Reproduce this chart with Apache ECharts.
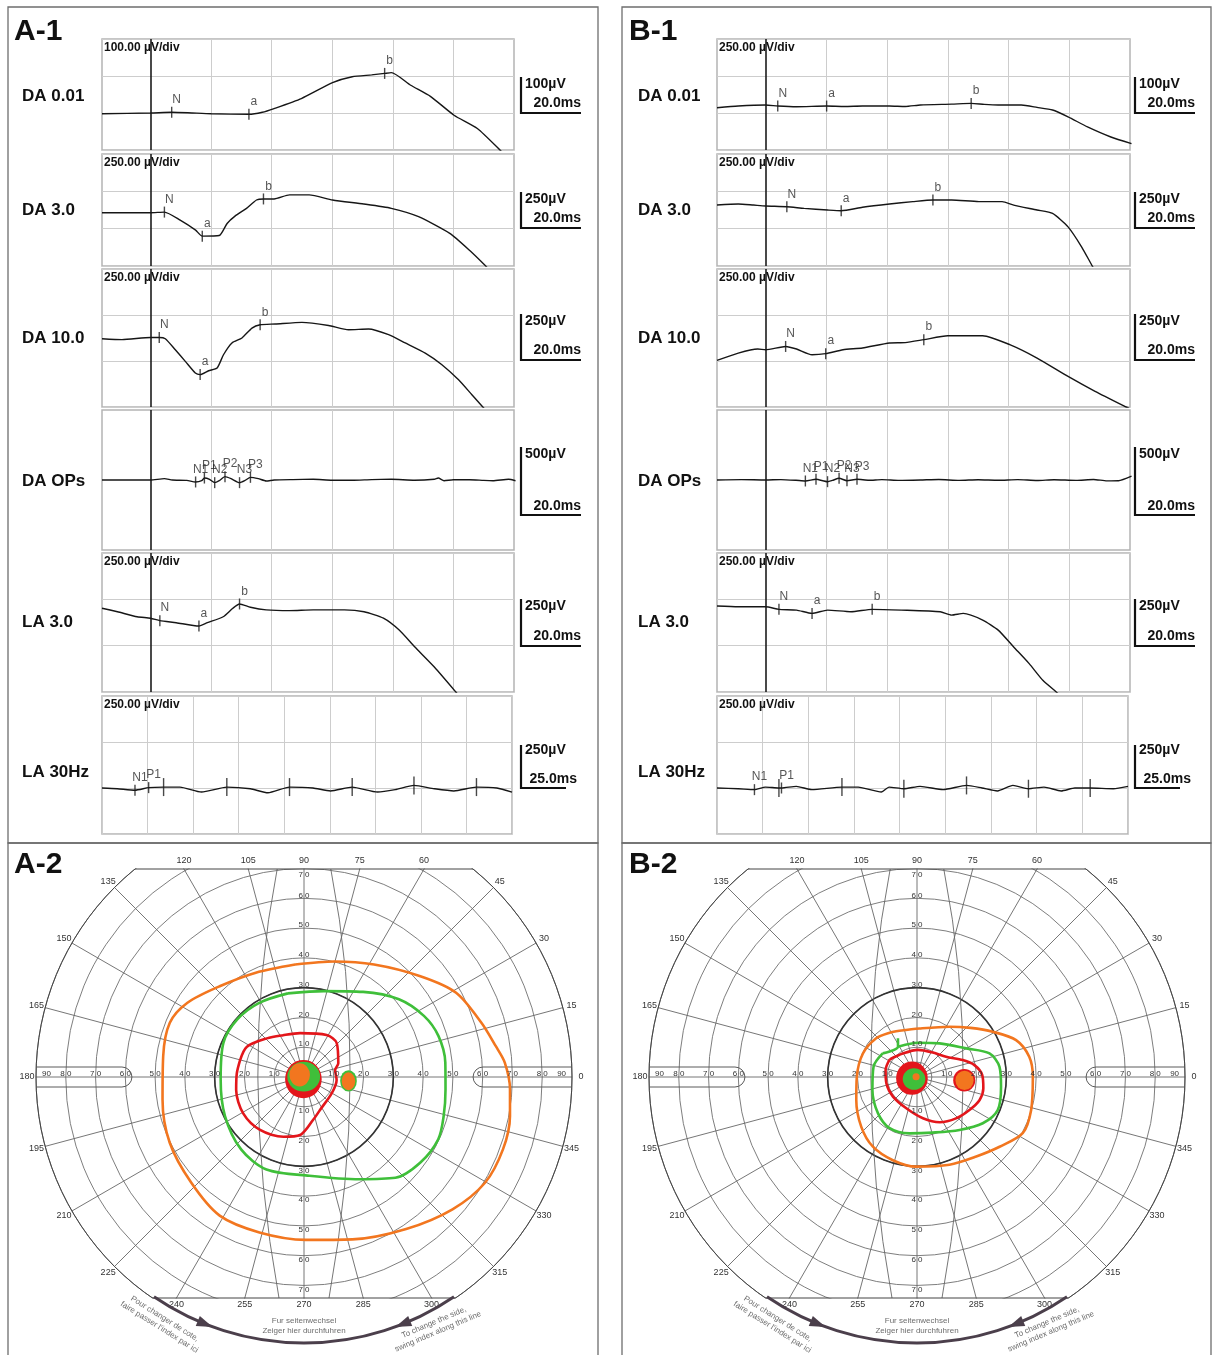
<!DOCTYPE html>
<html>
<head>
<meta charset="utf-8">
<title>ERG and Goldmann visual fields</title>
<script src="https://cdn.jsdelivr.net/npm/echarts@6.0.0/dist/echarts.min.js"></script>
<style>
  html, body { margin: 0; padding: 0; background: #fff; }
  #chart { width: 1214px; height: 1355px; }
</style>
</head>
<body>
<div id="chart"></div>
<script>
const FONT = 'Arial, "Liberation Sans", Helvetica, sans-serif';
const GRID_C = '#cdcdcd';
const T_MIN = -16, T_MAX = 120;     // ms, flash at 0
const ROW_KEYS = ['DA001', 'DA3', 'DA10', 'OPS', 'LA3', 'LA30'];

// ---- ERG traces, [time ms, amplitude uV] ----
const A_DA001 = [[-16,-2],[0,0],[7,2],[20.1,-2],[32.5,-3.5],[36.9,2],[40.8,12],[49.8,39],[60.1,82],[66.6,98],[73,103],[77.3,107],[79.5,109],[85.9,75],[92.4,45],[100.2,-6],[107.9,-42],[115.6,-102],[117,-115]];
const A_DA3 = [[-16,-143],[0,-143],[4.6,-139],[9.8,-193],[14.9,-260],[17.1,-300],[22.7,-296],[25.3,-215],[27.9,-166],[31.7,-114],[35,-58],[37.3,-51],[40.8,-51],[45.9,-24],[52.4,-24],[60.1,-58],[70.4,-85],[79.5,-114],[88.5,-170],[98.8,-282],[105.3,-395],[110.5,-497],[112,-530]];
const A_DA10 = [[-16,-129],[-9.4,-134],[0,-122],[2.9,-122],[4.9,-129],[8.2,-189],[11.5,-252],[14.8,-315],[16.4,-324],[19.2,-303],[22,-288],[24.1,-216],[26.9,-152],[30.2,-125],[33.5,-71],[36.2,-53],[41.2,-49],[50,-40],[58.8,-57],[65.4,-80],[72,-76],[78.6,-107],[84.1,-152],[90.7,-207],[96.2,-270],[101.7,-352],[106.1,-433],[110,-505],[111,-520]];
const A_OPS = [[-16,0],[-5,0],[0,0],[4.6,9.5],[7.2,0],[12,-3],[14.9,-14],[16.9,-5],[17.8,14],[19.5,5],[21.2,-19],[22.7,-5],[24.6,24],[26.6,9.5],[29.4,-19],[31.1,-5],[33,19],[35.6,9.5],[38.2,-7],[40.8,0],[47,3],[53.7,5],[60,-2],[66.6,-2],[73,3],[79.5,5],[87.2,-2],[93.7,5],[95,14],[96.9,-5],[100,2],[105.3,2],[110,-3],[113,-5],[118.2,5],[120.5,-5]];
const A_LA3 = [[-16,-48],[-10.9,-67],[-4.4,-94],[0,-102],[3.1,-115],[8.5,-126],[16,-144],[18.8,-126],[24,-94],[27.2,-48],[29.4,-25],[33,-43],[38.2,-57],[45.9,-61],[53.7,-57],[64,-57],[70.5,-67],[76.9,-102],[82.1,-166],[87.2,-256],[93.7,-365],[100.8,-500],[102,-525]];
const A_LA30 = [[0,-250],[8.4,-254],[18.1,-262],[25.6,-248],[33.8,-245],[42.8,-245],[54.6,-272],[68.5,-245],[81.4,-254],[91.1,-276],[102.9,-245],[115.8,-250],[125.4,-266],[137.3,-245],[151.2,-272],[160.9,-259],[171.2,-236],[182.3,-254],[193.1,-266],[205.5,-245],[216.7,-250],[225,-272]];

const B_DA001 = [[-16,35],[-9,47],[0,54],[4,47],[10.2,42],[20.1,47],[26,44],[31.9,47],[40.8,47],[46,44],[51,54],[61.3,60],[67.7,65],[72,58],[76.6,54],[84.2,54],[89.4,38],[94.5,20],[99.6,-26],[106,-94],[113.7,-162],[120.5,-207]];
const B_DA3 = [[-16,-92],[-9,-85],[-4,-92],[0,-98],[7,-103],[12.7,-114],[20.4,-125],[24.9,-130],[31.9,-107],[40.8,-85],[48.5,-69],[55.1,-58],[61.3,-58],[70.2,-69],[77.9,-69],[81.7,-92],[89.4,-125],[94.5,-148],[99.6,-238],[104.1,-373],[107.6,-501],[108.5,-530]];
const B_DA10 = [[-16,-247],[-9,-207],[-2.6,-185],[0,-189],[6.6,-171],[10.2,-185],[15.3,-216],[19.8,-210],[25.5,-189],[31.9,-179],[40.8,-152],[46,-150],[52.1,-134],[60,-113],[71.5,-113],[80.4,-161],[89.4,-234],[99.6,-334],[108.5,-415],[118.7,-500],[120,-510]];
const B_OPS = [[-16,0],[-8,3],[0,0],[5,3],[10,-2],[13.1,-7],[16.6,5],[20.4,-12],[22,-3],[24.2,12],[26.8,-5],[30.1,5],[34,-2],[38.3,3],[44,-3],[51,0],[57,4],[63.8,-3],[70,2],[76.6,-2],[83,3],[89.4,-4],[95,2],[102.2,-3],[108,4],[112.4,-6],[116.2,-5],[120.5,28]];
const B_LA3 = [[-16,-36],[-9,-40],[0,-40],[4.4,-54],[10.2,-58],[15.3,-76],[20.4,-58],[28.1,-67],[35.1,-54],[44.7,-58],[57.5,-67],[61.3,-85],[65.1,-76],[71.5,-112],[76.6,-166],[81.7,-257],[86.8,-347],[91.3,-437],[95.8,-501],[97,-520]];
const B_LA30 = [[0,-250],[11.7,-254],[20.5,-259],[26.5,-245],[33.9,-250],[35.3,-250],[43.4,-241],[51.9,-259],[68.4,-245],[77.3,-245],[90,-272],[94.2,-245],[102.3,-254],[111.2,-241],[123.8,-259],[136.6,-236],[145.1,-250],[153.5,-266],[162,-236],[170.5,-254],[179,-245],[188.4,-266],[195.9,-250],[204.3,-250],[217,-254],[225,-241]];

// ---- ERG markers, [label, time ms, uV, tall tick] ----
const A_DA001_MARKS = [['N', 7, 2], ['a', 32.5, -3.5], ['b', 77.3, 107]];
const A_DA3_MARKS = [['N', 4.6, -139], ['a', 17.1, -300], ['b', 37.3, -51]];
const A_DA10_MARKS = [['N', 2.9, -122], ['a', 16.4, -324], ['b', 36.2, -53]];
const A_OPS_MARKS = [['N1', 14.9, -14], ['P1', 17.8, 14], ['N2', 21.2, -19], ['P2', 24.6, 24], ['N3', 29.4, -19], ['P3', 33, 19]];
const A_LA3_MARKS = [['N', 3.1, -115], ['a', 16, -144], ['b', 29.4, -25]];
const A_LA30_MARKS = [['N1', 18.1, -262], ['P1', 25.6, -248], ['', 33.8, -245, 1], ['', 68.5, -245, 1], ['', 102.9, -245, 1], ['', 137.3, -245, 1], ['', 171.2, -236, 1], ['', 205.5, -245, 1]];

const B_DA001_MARKS = [['N', 4, 47], ['a', 20.1, 47], ['b', 67.7, 65]];
const B_DA3_MARKS = [['N', 7, -103], ['a', 24.9, -130], ['b', 55.1, -58]];
const B_DA10_MARKS = [['N', 6.6, -171], ['a', 19.8, -210], ['b', 52.1, -134]];
const B_OPS_MARKS = [['N1', 13.1, -7], ['P1', 16.6, 5], ['N2', 20.4, -12], ['P2', 24.2, 12], ['N3', 26.8, -5], ['P3', 30.1, 5]];
const B_LA3_MARKS = [['N', 4.4, -54], ['a', 15.3, -76], ['b', 35.1, -54]];
const B_LA30_MARKS = [['N1', 20.5, -259], ['P1', 35.3, -250], ['', 33.9, -250, 1], ['', 68.4, -245, 1], ['', 102.3, -254, 1], ['', 136.6, -236, 1], ['', 170.5, -254, 1], ['', 204.3, -250, 1]];

// axis ranges per row: [min, max, uV per division]
const A_YRANGE = { DA001: [-100, 200, 100], DA3: [-500, 250, 250], DA10: [-500, 250, 250], OPS: [-500, 500, 0], LA3: [-500, 250, 250], LA30: [-500, 250, 250] };
const B_YRANGE = { DA001: [-250, 500, 250], DA3: [-500, 250, 250], DA10: [-500, 250, 250], OPS: [-500, 500, 0], LA3: [-500, 250, 250], LA30: [-500, 250, 250] };
const A_DIV = { DA001: '100.00 µV/div', DA3: '250.00 µV/div', DA10: '250.00 µV/div', OPS: '', LA3: '250.00 µV/div', LA30: '250.00 µV/div' };
const B_DIV = { DA001: '250.00 µV/div', DA3: '250.00 µV/div', DA10: '250.00 µV/div', OPS: '', LA3: '250.00 µV/div', LA30: '250.00 µV/div' };
const ROW_NAMES = ['DA 0.01', 'DA 3.0', 'DA 10.0', 'DA OPs', 'LA 3.0', 'LA 30Hz'];
const SCALE_UV = ['100µV', '250µV', '250µV', '500µV', '250µV', '250µV'];
const SCALE_MS = ['20.0ms', '20.0ms', '20.0ms', '20.0ms', '20.0ms', '25.0ms'];
const MS_LINES = [20, 40, 60, 80, 100];

// ---- Goldmann isopters, [eccentricity deg, meridian deg] ----
const A_ORANGE = [[37.9,94.5],[40.1,75.3],[44.5,58.1],[51.7,40.9],[58.4,29],[62.3,17],[65.2,9.2],[67.6,4.1],[69.3,356.6],[70.4,349.3],[71.1,340],[70.4,329.7],[66.8,318.3],[61.5,303.9],[56.9,286.6],[54.7,270.6],[54.3,254],[54.5,238.7],[51.9,223.1],[50.2,206],[48.1,189],[47.8,171.6],[48.6,158],[46.4,147.5],[41.6,132.9],[38.6,114.8],[37.9,94.5]];
const A_GREEN = [[28.6,100.9],[29.6,77.1],[34.8,55.2],[41.2,39.3],[45.2,27],[47.2,17],[47.7,5.8],[47.7,355.1],[48.7,344.4],[49.7,335.1],[48.5,323.7],[45.7,312.2],[39.1,298.6],[33.2,273.1],[33.5,247.9],[32.2,229],[29.6,206.3],[28,181.6],[29.4,157],[29.6,139],[29.1,121.1],[28.6,100.9]];
const A_RED = [[22.2,165.2],[21.7,152],[18,133.9],[15.7,116.6],[14.8,95.1],[16,61.7],[15.8,45.8],[12.4,21.8],[10.7,12.5],[11,354.8],[10.8,329.4],[12.3,295.9],[14.7,282.1],[19.5,266.2],[21.2,251],[23.1,230.3],[23.8,210.9],[23.2,190.9],[22.6,177],[22.2,165.2]];
const B_ORANGE = [[16.6,110.8],[16.3,87.2],[20.1,57.2],[24.4,42.5],[29.6,30.9],[35.5,20.4],[38.3,10.2],[38.9,0.1],[39.9,343.8],[40.2,332],[36.3,319.8],[33.3,306.7],[31.4,290.3],[30.1,269.4],[29.1,253.8],[27.7,237.7],[25.1,221.8],[21.8,200.7],[20.2,179.7],[19.8,156.5],[18.9,136.5],[17.5,121.7],[16.6,110.8]];
const B_GREEN = [[14,145.5],[12,122.1],[14.5,116.2],[12,122.1],[11.5,88.5],[13.6,56.1],[19.1,30.2],[25.6,18],[27.9,7.2],[28.4,353.5],[29.3,337.7],[27,324.9],[22.8,308.8],[19.4,285.8],[19.1,262.5],[19.5,241.9],[17.9,223],[15.6,196.3],[15,166.5],[14,145.5]];
const B_RED = [[10.9,147.3],[9.2,121.3],[9.1,88.1],[9.8,57.1],[11.9,34.8],[16.4,20.3],[19.7,11.7],[21.9,1.8],[22.6,350.3],[22.4,339.9],[20.8,327.8],[19.1,313.3],[17,296.6],[14,278.2],[11.1,251.1],[10.4,219.2],[10.5,191.5],[10.8,167.8],[10.9,147.3]];
// filled scotoma patches, [eccentricity, meridian, width deg, height deg]
const A_RED_PATCH = [[0.73, 254, 12.3, 12.9]];
const A_GREEN_PATCH = [[0.14, 135, 11, 10], [15, 355, 5.6, 7.2]];
const A_ORANGE_PATCH = [[1.61, 154, 6.9, 7.8], [15, 354.6, 4.5, 6]];
const B_RED_PATCH = [[1.75, 193, 10.6, 11.2], [15.9, 356, 7.4, 7.6]];
const B_GREEN_PATCH = [[1.22, 215, 7.6, 7.2]];
const B_ORANGE_PATCH = [[0.32, 162, 2.4, 2.4], [16, 356, 6.1, 6.5]];
const MERIDIAN_LABELS = [0, 15, 30, 45, 60, 75, 90, 105, 120, 135, 150, 165, 180, 195, 210, 225, 240, 255, 270, 285, 300, 315, 330, 345];

const ERG = [
  { title: 'A-1', titleX: 14, left: 102, width: 412, width30: 410, barX: 521, textX: 22,
    traces: { DA001: A_DA001, DA3: A_DA3, DA10: A_DA10, OPS: A_OPS, LA3: A_LA3, LA30: A_LA30 },
    marks: { DA001: A_DA001_MARKS, DA3: A_DA3_MARKS, DA10: A_DA10_MARKS, OPS: A_OPS_MARKS, LA3: A_LA3_MARKS, LA30: A_LA30_MARKS },
    yr: A_YRANGE, div: A_DIV },
  { title: 'B-1', titleX: 629, left: 717, width: 413, width30: 411, barX: 1135, textX: 638,
    traces: { DA001: B_DA001, DA3: B_DA3, DA10: B_DA10, OPS: B_OPS, LA3: B_LA3, LA30: B_LA30 },
    marks: { DA001: B_DA001_MARKS, DA3: B_DA3_MARKS, DA10: B_DA10_MARKS, OPS: B_OPS_MARKS, LA3: B_LA3_MARKS, LA30: B_LA30_MARKS },
    yr: B_YRANGE, div: B_DIV }
];
// row boxes: top, height, label y, scale bar top/bottom, text y's
const ROWS = [
  { top: 39, h: 111, ly: 96, b0: 77, b1: 113, uy: 84, my: 103 },
  { top: 154, h: 112, ly: 210, b0: 192, b1: 228, uy: 199, my: 218 },
  { top: 269, h: 138, ly: 338, b0: 314, b1: 360, uy: 321, my: 350 },
  { top: 410, h: 140, ly: 481, b0: 447, b1: 515, uy: 454, my: 506 },
  { top: 553, h: 139, ly: 622, b0: 599, b1: 646, uy: 606, my: 636 },
  { top: 696, h: 138, ly: 772, b0: 745, b1: 788, uy: 750, my: 779 }
];
const FIELDS = [
  { title: 'A-2', titleX: 14, cx: 304, cy: 1077, orange: A_ORANGE, green: A_GREEN, red: A_RED,
    redP: A_RED_PATCH, greenP: A_GREEN_PATCH, orangeP: A_ORANGE_PATCH },
  { title: 'B-2', titleX: 629, cx: 917, cy: 1077, orange: B_ORANGE, green: B_GREEN, red: B_RED,
    redP: B_RED_PATCH, greenP: B_GREEN_PATCH, orangeP: B_ORANGE_PATCH }
];
const R_PX = 268, KP = R_PX / 90;
const ORANGE = '#f2761f', GREEN = '#3fbf3a', RED = '#e3161b';

const option = {
  animation: false,
  backgroundColor: '#fff',
  grid: [], xAxis: [], yAxis: [], series: [],
  polar: [], radiusAxis: [], angleAxis: [],
  graphic: { elements: [] }
};
const G = option.graphic.elements;
function txt(x, y, s, font, extra, style) {
  G.push(Object.assign({ type: 'text', x: x, y: y, z: 60, silent: true,
    style: Object.assign({ text: s, font: font, fill: '#111', align: 'left', verticalAlign: 'middle' }, style || {}) }, extra || {}));
}
function seg(x1, y1, x2, y2, color, w, z) {
  G.push({ type: 'line', z: z || 60, silent: true, shape: { x1: x1, y1: y1, x2: x2, y2: y2 }, style: { stroke: color, lineWidth: w } });
}
const hidden = { axisLine: { show: false }, axisTick: { show: false }, axisLabel: { show: false } };

// ---------- ERG panels ----------
ERG.forEach(function (p) {
  txt(p.titleX, 32, p.title, 'bold 30px ' + FONT);
  ROW_KEYS.forEach(function (key, ri) {
    const row = ROWS[ri];
    const gi = option.grid.length;
    const is30 = key === 'LA30';
    const yr = p.yr[key];
    option.grid.push({ left: p.left, top: row.top, width: is30 ? p.width30 : p.width, height: row.h,
      show: true, backgroundColor: '#fff', borderColor: '#b4b4b4', borderWidth: 1.5 });
    option.xAxis.push(Object.assign({ gridIndex: gi, type: 'value', min: is30 ? 0 : T_MIN, max: is30 ? 225 : T_MAX,
      splitLine: { show: is30, lineStyle: { color: GRID_C, width: 1 } } }, is30 ? { interval: 25 } : {}, hidden));
    option.yAxis.push(Object.assign({ gridIndex: gi, type: 'value', min: yr[0], max: yr[1],
      splitLine: { show: yr[2] > 0, lineStyle: { color: GRID_C, width: 1 } } }, yr[2] > 0 ? { interval: yr[2] } : {}, hidden));
    const trace = { type: 'line', xAxisIndex: gi, yAxisIndex: gi, data: p.traces[key], showSymbol: false, smooth: 0.2,
      silent: true, z: 3, lineStyle: { color: '#161616', width: 1.4 } };
    if (!is30) {
      trace.markLine = { silent: true, symbol: ['none', 'none'], label: { show: false }, z: 1,
        lineStyle: { color: GRID_C, width: 1, type: 'solid' },
        data: MS_LINES.map(function (v) { return { xAxis: v }; })
          .concat([{ xAxis: 0, lineStyle: { color: '#1c1c1c', width: 1.6, type: 'solid' } }]) };
    }
    option.series.push(trace);
    option.series.push({ type: 'scatter', xAxisIndex: gi, yAxisIndex: gi, symbol: 'rect', silent: true, z: 4,
      itemStyle: { color: '#1a1a1a' },
      data: p.marks[key].map(function (m) {
        return { name: m[0], value: [m[1], m[2]], symbolSize: m[3] ? [1.4, 18] : [1.4, 11] };
      }),
      label: { show: true, position: 'top', distance: 1, offset: [5, 0], formatter: '{b}',
        fontSize: 12, fontFamily: FONT, color: '#2a2a2a' } });
    // row label, division label and scale bar
    txt(p.textX, row.ly, ROW_NAMES[ri], 'bold 17px ' + FONT);
    if (p.div[key]) txt(p.left + 2, row.top + 9, p.div[key], 'bold 12px ' + FONT);
    const len = is30 ? 45 : 60;
    seg(p.barX, row.b0, p.barX, row.b1 + 1, '#111', 2.2);
    seg(p.barX - 1, row.b1, p.barX + len, row.b1, '#111', 2.2);
    txt(p.barX + 4, row.uy, SCALE_UV[ri], 'bold 14px ' + FONT);
    txt(is30 ? p.barX + 56 : p.barX + len, row.my, SCALE_MS[ri], 'bold 14px ' + FONT, null, { align: 'right' });
  });
});

// ---------- Goldmann fields ----------
const RING_COLORS = [];
for (let d = 0; d <= 90; d += 5) RING_COLORS.push(d === 5 || (d > 0 && d % 10 === 0) ? '#6f6f6f' : 'rgba(0,0,0,0)');
const TOP = 208, BOT = 221;

FIELDS.forEach(function (f, fi) {
  const cx = f.cx, cy = f.cy;
  option.polar.push({ center: [cx, cy], radius: R_PX });
  option.radiusAxis.push(Object.assign({ polarIndex: fi, type: 'value', min: 0, max: 90, interval: 5, z: -1,
    splitLine: { show: true, lineStyle: { color: RING_COLORS, width: 0.9 } } }, hidden));
  option.angleAxis.push({ polarIndex: fi, type: 'value', min: 0, max: 360, interval: 15, startAngle: 0, clockwise: false, z: -1,
    axisLine: { show: true, lineStyle: { color: '#444', width: 1 } }, axisTick: { show: false }, axisLabel: { show: false },
    splitLine: { show: true, lineStyle: { color: '#666', width: 0.9 } } });
  [[f.orange, ORANGE], [f.green, GREEN], [f.red, RED]].forEach(function (iso, k) {
    option.series.push({ type: 'line', coordinateSystem: 'polar', polarIndex: fi, data: iso[0], showSymbol: false,
      smooth: 0.3, silent: true, z: 3 + k, lineStyle: { color: iso[1], width: 2.6 } });
  });
  [[f.redP, RED, 7], [f.greenP, GREEN, 8], [f.orangeP, ORANGE, 9]].forEach(function (b) {
    option.series.push({ type: 'scatter', coordinateSystem: 'polar', polarIndex: fi, data: b[0], silent: true, z: b[2],
      symbol: 'circle', symbolSize: function (v) { return [v[2] * KP, v[3] * KP]; },
      itemStyle: { color: b[1], opacity: 1 } });
  });

  // 30 deg ring, bowl curves, side slots
  G.push({ type: 'circle', z: 1, silent: true, shape: { cx: cx, cy: cy, r: 30 * KP }, style: { fill: 'rgba(0,0,0,0)', stroke: '#333', lineWidth: 1.6 } });
  [-1, 1].forEach(function (s) {
    const x1 = cx + s * 9 * KP, x2 = cx + s * 8.4 * KP, xm = cx + s * 15.5 * KP;
    const y1 = cy - TOP, y2 = cy + BOT;
    G.push({ type: 'bezierCurve', z: 1, silent: true,
      shape: { x1: x1, y1: y1, x2: x2, y2: y2, cpx1: 2 * xm - 0.5 * (x1 + x2), cpy1: 2 * cy - 0.5 * (y1 + y2) },
      style: { stroke: '#666', lineWidth: 0.9, fill: null } });
    const edge = cx + s * Math.sqrt(R_PX * R_PX - 100);
    const ac = cx + s * (s < 0 ? 64.5 : 63.5) * KP - s * 10;
    seg(edge, cy - 10, ac, cy - 10, '#5a5a5a', 1, 2);
    seg(edge, cy + 10, ac, cy + 10, '#5a5a5a', 1, 2);
    G.push({ type: 'arc', z: 2, silent: true,
      shape: { cx: ac, cy: cy, r: 10, startAngle: s < 0 ? -Math.PI / 2 : Math.PI / 2, endAngle: s < 0 ? Math.PI / 2 : Math.PI * 1.5, clockwise: true },
      style: { stroke: '#5a5a5a', lineWidth: 1, fill: null } });
  });

  // cut top and bottom of the chart
  G.push({ type: 'rect', z: 50, silent: true, shape: { x: cx - 285, y: 835, width: 570, height: cy - TOP - 835.5 }, style: { fill: '#fff' } });
  G.push({ type: 'rect', z: 50, silent: true, shape: { x: cx - 285, y: cy + BOT + 0.5, width: 570, height: 1355 - cy - BOT }, style: { fill: '#fff' } });
  const hwT = Math.sqrt(R_PX * R_PX - TOP * TOP), hwB = Math.sqrt(R_PX * R_PX - BOT * BOT);
  seg(cx - hwT, cy - TOP, cx + hwT, cy - TOP, '#444', 1, 55);
  seg(cx - hwB, cy + BOT, cx + hwB, cy + BOT, '#444', 1, 55);

  // ring labels
  const rf = '8px ' + FONT;
  const ringStyle = { align: 'center', fill: '#333' };
  for (let d = 10; d <= 70; d += 10) {
    txt(cx, cy - d * KP + (d === 70 ? 6 : -3), (d / 10) + ' 0', rf, null, ringStyle);
    txt(cx, cy + d * KP + 4, (d / 10) + ' 0', rf, null, ringStyle);
  }
  for (let d = 10; d <= 90; d += 10) {
    const r = d === 90 ? 86.5 : d;
    const s = d === 90 ? '90' : (d / 10) + ' 0';
    txt(cx - r * KP, cy - 3, s, rf, null, ringStyle);
    txt(cx + r * KP, cy - 3, s, rf, null, ringStyle);
  }
  // meridian labels
  MERIDIAN_LABELS.forEach(function (a) {
    const rad = a * Math.PI / 180, c = Math.cos(rad), sn = Math.sin(rad);
    let x, y;
    if (sn * R_PX > TOP) { x = cx + TOP * c / sn; y = cy - TOP - 8; }
    else if (-sn * R_PX > BOT) { x = cx - BOT * c / sn; y = cy + BOT + 7; }
    else { x = cx + 277 * c; y = cy - 277 * sn; }
    txt(x, y, String(a), '9px ' + FONT, null, { align: 'center', fill: '#333' });
  });

  // side-change arrow and captions
  const ar = 266, a0 = Math.atan2(BOT + 1, hwB), a1 = Math.PI - a0;
  G.push({ type: 'arc', z: 60, silent: true, shape: { cx: cx, cy: cy, r: ar, startAngle: a0, endAngle: a1, clockwise: true },
    style: { stroke: '#4b3f4b', lineWidth: 3, fill: null } });
  [[111.8, 1], [68.2, -1]].forEach(function (h) {
    const t = h[0] * Math.PI / 180;
    const px = cx + ar * Math.cos(t), py = cy + ar * Math.sin(t);
    const dx = h[1] * Math.sin(t), dy = -h[1] * Math.cos(t);
    const nx = -dy, ny = dx;
    G.push({ type: 'polygon', z: 61, silent: true,
      shape: { points: [[px + dx * 8, py + dy * 8], [px - dx * 8 + nx * 5.5, py - dy * 8 + ny * 5.5], [px - dx * 8 - nx * 5.5, py - dy * 8 - ny * 5.5]] },
      style: { fill: '#4b3f4b' } });
  });
  const cap = { align: 'center', fill: '#6d6d6d', lineHeight: 10 };
  txt(cx - 142, cy + 246, 'Pour changer de cote,\nfaire passer l\'index par ici', '8px ' + FONT, { rotation: -0.56 }, cap);
  txt(cx, cy + 249, 'Fur seitenwechsel\nZeiger hier durchfuhren', '8px ' + FONT, null, cap);
  txt(cx + 132, cy + 250, 'To change the side,\nswing index along this line', '8px ' + FONT, { rotation: 0.4 }, cap);
  txt(f.titleX, 865, f.title, 'bold 30px ' + FONT);
});

// panel frames
[[8, 7, 590, 836], [622, 7, 589, 836], [8, 843, 590, 520], [622, 843, 589, 520]].forEach(function (b) {
  G.push({ type: 'rect', z: 70, silent: true, shape: { x: b[0], y: b[1], width: b[2], height: b[3] },
    style: { fill: null, stroke: '#6e6e6e', lineWidth: 1.3 } });
});

const myChart = echarts.init(document.getElementById('chart'));
myChart.setOption(option);
</script>
</body>
</html>
